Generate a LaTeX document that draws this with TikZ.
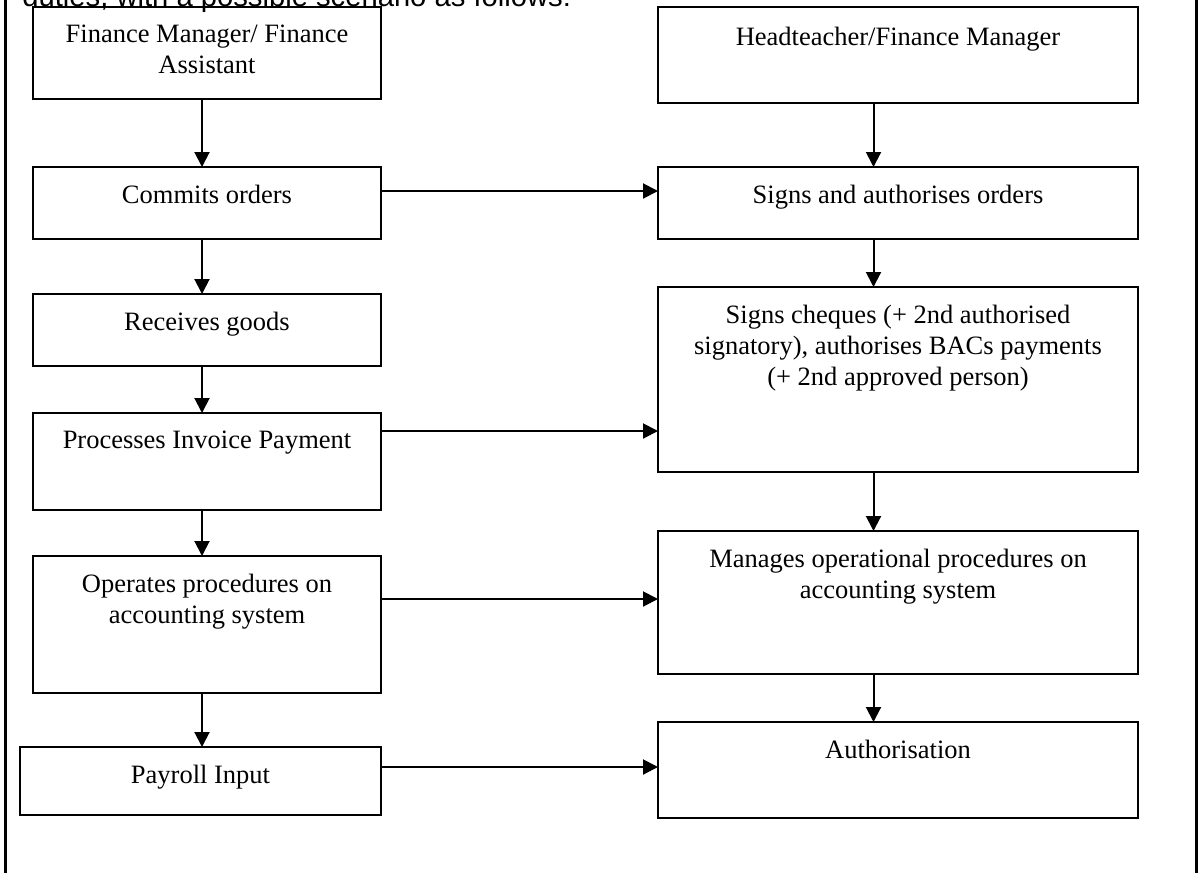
\documentclass[tikz,border=0pt]{standalone}
\usepackage{fontspec}
\setmainfont{Liberation Serif}
\newfontfamily\introfont{Liberation Sans}
\usetikzlibrary{arrows.meta}
\usetikzlibrary{positioning}

\tikzset{
  box/.style={draw, line width=1pt, inner sep=0pt, outer sep=0pt, anchor=north west},
  boxtext/.style={align=center, inner sep=0pt, font=\fontsize{13.25}{15.5}\selectfont},
  flow/.style={line width=1pt, -{Triangle[length=7.5pt,width=7.5pt]}},
}

\begin{document}
\begin{tikzpicture}[x=0.5pt, y=-0.5pt]

        % Page
        \useasboundingbox (0,0) rectangle (1198,873);
        \draw[line width=1.5pt] (5,0) -- (5,873);
        \draw[line width=1.5pt] (1196,0) -- (1196,873);
        \node[anchor=base west, inner sep=0pt, font=\introfont\fontsize{14.6}{17}\selectfont] (intro) at (22,6) {duties, with a possible scenario as follows:};

        % Left column
        \node[box, minimum width=174pt, minimum height=46pt] (fm) at (33,7) {};
        \node[box, minimum width=174pt, minimum height=36pt] (commits) at (33,167) {};
        \node[box, minimum width=174pt, minimum height=36pt] (receives) at (33,294) {};
        \node[box, minimum width=174pt, minimum height=48.5pt] (proc) at (33,413) {};
        \node[box, minimum width=174pt, minimum height=68.5pt] (operates) at (33,556) {};
        \node[box, minimum width=180.5pt, minimum height=34pt] (payroll) at (20,747) {};

        \node[boxtext, below=9pt of fm.north] (fmT) {Finance Manager/ Finance\\Assistant};
        \node[boxtext, below=9pt of commits.north] (commitsT) {Commits orders};
        \node[boxtext, below=9pt of receives.north] (receivesT) {Receives goods};
        \node[boxtext, below=9pt of proc.north] (procT) {Processes Invoice Payment};
        \node[boxtext, below=9pt of operates.north] (operatesT) {Operates procedures on\\accounting system};
        \node[boxtext, below=9pt of payroll.north] (payrollT) {Payroll Input};

        % Right column
        \node[box, minimum width=240pt, minimum height=48pt] (ht) at (658,7) {};
        \node[box, minimum width=240pt, minimum height=36pt] (signs) at (658,167) {};
        \node[box, minimum width=240pt, minimum height=92.5pt] (cheques) at (658,287) {};
        \node[box, minimum width=240pt, minimum height=71.5pt] (manages) at (658,531) {};
        \node[box, minimum width=240pt, minimum height=48pt] (auth) at (658,722) {};

        \node[boxtext, below=10pt of ht.north] (htT) {Headteacher/Finance Manager};
        \node[boxtext, below=9pt of signs.north] (signsT) {Signs and authorises orders};
        \node[boxtext, below=9pt of cheques.north] (chequesT) {Signs cheques (+ 2nd authorised\\signatory), authorises BACs payments\\(+ 2nd approved person)};
        \node[boxtext, below=9pt of manages.north] (managesT) {Manages operational procedures on\\accounting system};
        \node[boxtext, below=9pt of auth.north] (authT) {Authorisation};

        % Down arrows
        \coordinate (colL) at (202,0);
        \coordinate (colR) at (873.5,0);
        \foreach \a/\b in {fm/commits, commits/receives, receives/proc, proc/operates, operates/payroll}
          \draw[flow] (\a.south -| colL) -- (\b.north -| colL);
        \foreach \a/\b in {ht/signs, signs/cheques, cheques/manages, manages/auth}
          \draw[flow] (\a.south -| colR) -- (\b.north -| colR);

        % Across arrows
        \foreach \a/\b/\y in {commits/signs/191, proc/cheques/431, operates/manages/599, payroll/auth/767}
        {
          \coordinate (row\y) at (0,\y);
          \draw[flow] (row\y -| \a.east) -- (row\y -| \b.west);
        }

\end{tikzpicture}
\end{document}
